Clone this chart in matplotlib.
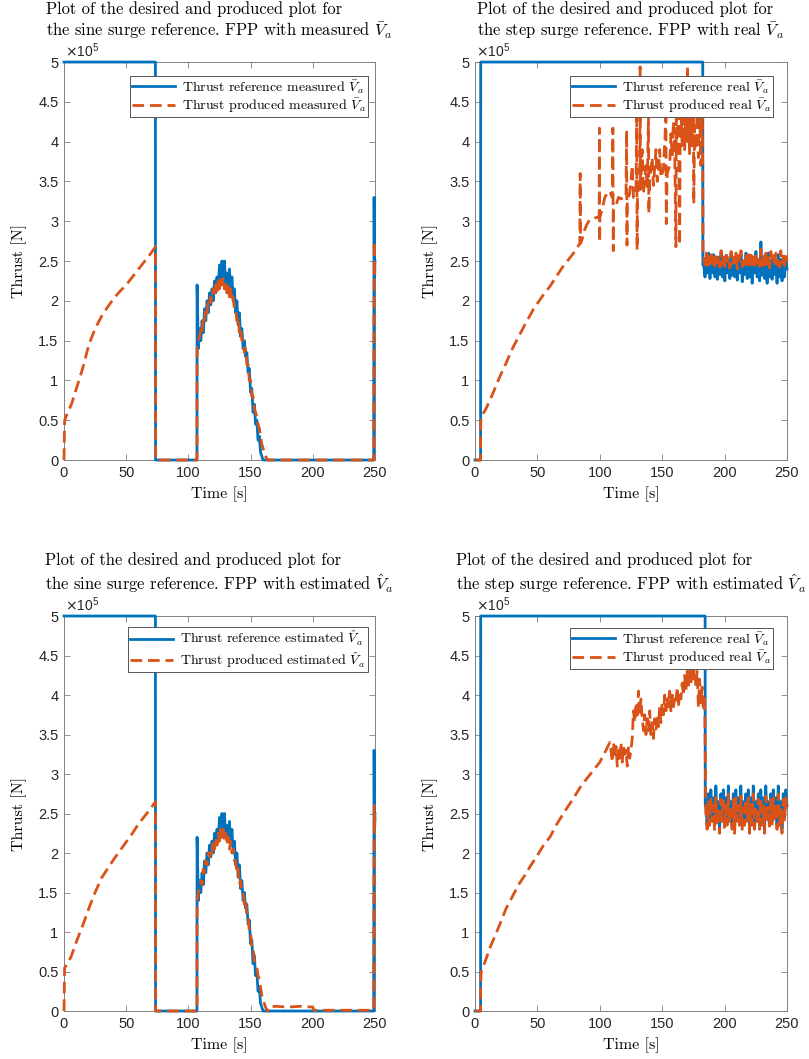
import numpy as np
import matplotlib
matplotlib.use('Agg')
import matplotlib.pyplot as plt
from matplotlib.ticker import FuncFormatter

plt.rcParams['mathtext.fontset'] = 'cm'
plt.rcParams['axes.unicode_minus'] = False

# colours (matlab default order)
c_ref = '#0072BD'
c_prod = '#D95319'

# ---------------------------------------------------------------- data [x1e5 N]
# sine surge, shared hump shape (t = 107..164, 1 s)
hump_t = np.arange(107, 165)
hump_ref = [2.2, 1.4, 1.65, 1.5, 1.75, 1.6, 1.9, 1.75, 2.0, 1.85, 2.1, 1.95, 2.15, 2.0,
            2.25, 2.1, 2.3, 2.15, 2.45, 2.2, 2.5, 2.25, 2.5, 2.2, 2.35, 2.15, 2.4, 2.1,
            2.3, 2.0, 2.15, 1.85, 2.0, 1.7, 1.85, 1.55, 1.65, 1.4, 1.5, 1.3, 1.35, 1.1,
            1.15, 0.85, 0.9, 0.6, 0.7, 0.45, 0.5, 0.25, 0.3, 0.1, 0.05, 0.0, 0.0, 0.0,
            0.0, 0.0]
hump_prod = [1.4, 1.5, 1.55, 1.65, 1.6, 1.8, 1.75, 1.9, 1.85, 2.0, 1.95, 2.05, 2.0, 2.15,
             2.05, 2.2, 2.1, 2.25, 2.15, 2.3, 2.2, 2.3, 2.15, 2.25, 2.1, 2.2, 2.05, 2.15,
             2.0, 2.05, 1.9, 1.9, 1.75, 1.8, 1.6, 1.65, 1.5, 1.5, 1.35, 1.4, 1.2, 1.2,
             1.0, 1.0, 0.8, 0.8, 0.65, 0.6, 0.55, 0.45, 0.4, 0.3, 0.2, 0.15, 0.1, 0.05,
             0.02, 0.0]

# top left: sine, measured Va
tl_rise_t = [0, 0.5, 3, 6, 10, 15, 20, 25, 30, 35, 40, 45, 50, 55, 60, 65, 70, 73.5, 73.7, 106.9]
tl_rise_y = [0, 0.5, 0.6, 0.7, 0.9, 1.15, 1.45, 1.65, 1.8, 1.92, 2.03, 2.12, 2.2, 2.3,
             2.4, 2.5, 2.6, 2.68, 0.0, 0.0]
tl_tail_t = [165, 249, 249.4, 249.7, 250]
tl_tail_y = [0.0, 0.0, 2.75, 2.3, 2.4]

# bottom left: sine, estimated Va
bl_rise_t = [0, 0.5, 3, 6, 10, 15, 20, 25, 30, 35, 40, 45, 50, 55, 60, 65, 70, 73.5, 73.7, 106.9]
bl_rise_y = [0, 0.55, 0.6, 0.7, 0.88, 1.08, 1.3, 1.5, 1.68, 1.8, 1.92, 2.03, 2.14, 2.25,
             2.37, 2.47, 2.57, 2.65, 0.0, 0.0]
bl_tail_t = [165, 170, 180, 190, 200, 201, 249, 249.4, 249.7, 250]
bl_tail_y = [0.05, 0.06, 0.05, 0.06, 0.05, 0.01, 0.01, 2.6, 2.3, 2.45]

# sine reference, outside the hump
sine_ref_head_t = [0, 73.5, 73.6, 106.9]
sine_ref_head_y = [5.0, 5.0, 0.0, 0.0]
sine_ref_tail_t = [165, 249, 249.3, 249.6, 250]
sine_ref_tail_y = [0.0, 0.0, 3.3, 2.3, 2.5]

# top right: step, real Va
tr_ref_t = [0, 4.5, 4.6, 182.5, 182.6]
tr_ref_y = [0, 0, 5.0, 5.0, 2.45]
tr_ref_noise = [2.45, 2.3, 2.55, 2.35, 2.6, 2.28, 2.5, 2.35, 2.58, 2.3, 2.45, 2.27, 2.55,
                2.33, 2.62, 2.3, 2.48, 2.25, 2.57, 2.35, 2.5, 2.28, 2.6, 2.32, 2.45, 2.3,
                2.55, 2.26, 2.5, 2.35, 2.58, 2.24, 2.48, 2.33, 2.6, 2.28, 2.52, 2.3, 2.45,
                2.22, 2.55, 2.35, 2.62, 2.3, 2.5, 2.25, 2.74, 2.32, 2.55, 2.28, 2.48, 2.22,
                2.6, 2.3, 2.5, 2.27, 2.56, 2.33, 2.45, 2.22, 2.58, 2.3, 2.52, 2.25, 2.48,
                2.3, 2.55, 2.4]
tr_prod_t = [0, 4.5, 4.6, 5, 8, 12, 16, 20, 25, 30, 35, 40, 47, 55, 60, 65, 70, 75, 80,
             84.0, 84.3, 84.6, 86, 88, 90, 92, 94, 96, 98, 99.5, 99.7, 99.9, 100.1, 102,
             104, 106, 108, 110, 110.5, 110.8, 111, 113, 115, 117, 119, 121, 121.5, 121.8,
             122, 124, 126, 127, 129, 129.6, 129.9, 130.2, 132, 132.3, 132.6, 134, 135,
             137, 138, 139, 139.3, 140, 142, 143, 145, 146, 147, 148, 149, 151, 153,
             153.3, 154, 156, 157, 158, 159, 160, 161, 161.3, 162, 163, 164, 164.4, 165,
             166, 167, 168, 169, 170, 170.3, 170.6, 171, 172, 173, 174, 175, 175.3, 176,
             177, 178, 179, 180, 181, 182, 182.5, 182.8]
tr_prod_y = [0, 0, 0.45, 0.55, 0.62, 0.75, 0.9, 1.05, 1.22, 1.4, 1.55, 1.7, 1.9, 2.08,
             2.18, 2.3, 2.42, 2.52, 2.62,
             2.72, 3.6, 2.72, 2.78, 2.9, 2.97, 3.02, 3.02, 3.04, 3.05, 3.05, 4.17, 2.74,
             3.05, 3.15, 3.3, 3.35, 3.38, 3.3, 4.17, 2.63, 3.15, 3.2, 3.3, 3.28, 3.3,
             3.3, 4.14, 2.7, 3.25, 3.35, 3.7, 3.3, 3.35, 4.4, 2.64, 3.3, 3.6, 4.94, 3.4,
             3.9, 3.35, 3.7, 3.4, 4.33, 3.1, 3.5, 3.8, 3.45, 3.9, 3.5, 3.6, 3.9, 3.55,
             3.65, 4.31, 2.97, 3.6, 3.7, 4.1, 3.8, 4.25, 3.9, 2.68, 4.3, 3.9, 4.35, 2.7,
             4.0, 4.4, 3.95, 4.3, 3.9, 4.35, 4.0, 4.94, 4.0, 4.3, 3.85, 4.4, 3.95, 4.77,
             3.22, 4.2, 3.9, 4.35, 3.8, 4.4, 3.7, 4.3, 3.7, 2.55]
tr_prod_noise = [2.55, 2.45, 2.6, 2.42, 2.58, 2.47, 2.62, 2.44, 2.55, 2.4, 2.6, 2.48, 2.57,
                 2.42, 2.63, 2.46, 2.55, 2.43, 2.6, 2.5, 2.56, 2.41, 2.62, 2.47, 2.55, 2.44,
                 2.6, 2.4, 2.57, 2.48, 2.63, 2.43, 2.55, 2.46, 2.6, 2.42, 2.58, 2.45, 2.62,
                 2.44, 2.55, 2.4, 2.6, 2.47, 2.57, 2.43, 2.65, 2.45, 2.58, 2.42, 2.6, 2.46,
                 2.55, 2.41, 2.62, 2.48, 2.57, 2.43, 2.6, 2.45, 2.55, 2.42, 2.63, 2.47, 2.56,
                 2.44, 2.6, 2.5]

# bottom right: step, estimated Va
br_ref_t = [0, 4.5, 4.6, 184.4, 184.5]
br_ref_y = [0, 0, 5.0, 5.0, 2.6]
br_prod_t = [0, 4.5, 4.6, 5, 8, 12, 16, 20, 25, 30, 35, 40, 45, 50, 55, 60, 65, 70, 75,
             80, 85, 90, 95, 100, 105, 108]
br_prod_y = [0, 0, 0.35, 0.5, 0.62, 0.8, 0.95, 1.1, 1.3, 1.45, 1.6, 1.72, 1.85, 1.97,
             2.1, 2.2, 2.35, 2.48, 2.6, 2.72, 2.85, 2.95, 3.05, 3.15, 3.3, 3.4]
br_prod_mid = [3.3, 3.15, 3.4, 3.2, 3.35, 3.1, 3.3, 3.2, 3.4, 3.15, 3.35, 3.25, 3.3, 3.1,
               3.35, 3.2, 3.3,
               3.45, 3.8, 3.65, 3.9, 3.7, 4.05, 3.75, 3.95, 3.7,
               3.55, 3.75, 3.5, 3.7, 3.55, 3.8, 3.5, 3.65, 3.45, 3.7, 3.55, 3.75, 3.6,
               3.85, 3.65, 3.9,
               3.75, 4.0, 3.8, 3.95, 3.85, 4.05, 3.8, 4.0, 3.85, 3.95, 3.9, 4.1, 3.85,
               4.05, 3.95, 4.15,
               4.0, 4.25, 4.05, 4.3, 4.1, 4.35, 4.15, 4.4, 4.2, 4.45, 4.1, 4.3,
               3.85, 4.2, 3.9, 4.1, 3.8, 4.0]
br_ref_noise = [2.6, 2.35, 2.75, 2.4, 2.8, 2.45, 2.7, 2.35, 2.85, 2.4, 2.65, 2.3, 2.75,
                2.45, 2.8, 2.35, 2.7, 2.4, 2.85, 2.45, 2.65, 2.35, 2.75, 2.3, 2.8, 2.45,
                2.7, 2.4, 2.85, 2.35, 2.65, 2.4, 2.75, 2.45, 2.8, 2.3, 2.7, 2.4, 2.85,
                2.35, 2.65, 2.45, 2.75, 2.35, 2.8, 2.4, 2.7, 2.3, 2.85, 2.45, 2.65, 2.35,
                2.75, 2.4, 2.8, 2.45, 2.7, 2.35, 2.85, 2.4, 2.65, 2.3, 2.75, 2.45, 2.8, 2.6]
br_prod_noise = [2.5, 2.3, 2.65, 2.35, 2.7, 2.4, 2.6, 2.28, 2.72, 2.38, 2.55, 2.25, 2.68,
                 2.4, 2.7, 2.3, 2.6, 2.35, 2.75, 2.4, 2.55, 2.3, 2.68, 2.25, 2.7, 2.4,
                 2.6, 2.35, 2.72, 2.3, 2.58, 2.35, 2.68, 2.4, 2.7, 2.25, 2.62, 2.35, 2.75,
                 2.3, 2.55, 2.4, 2.68, 2.3, 2.7, 2.35, 2.6, 2.25, 2.72, 2.4, 2.58, 2.3,
                 2.68, 2.35, 2.7, 2.4, 2.62, 2.3, 2.75, 2.35, 2.55, 2.25, 2.68, 2.4, 2.7, 2.5]

titles = [
    'Plot of the desired and produced plot for\nthe sine surge reference. FPP with measured $\\bar{V}_a$',
    'Plot of the desired and produced plot for\nthe step surge reference. FPP with real $\\bar{V}_a$',
    'Plot of the desired and produced plot for\nthe sine surge reference. FPP with estimated $\\hat{V}_a$',
    'Plot of the desired and produced plot for\nthe step surge reference. FPP with estimated $\\hat{V}_a$',
]
legends = [
    ('Thrust reference measured $\\bar{V}_a$', 'Thrust produced measured $\\bar{V}_a$'),
    ('Thrust reference real $\\bar{V}_a$', 'Thrust produced real $\\bar{V}_a$'),
    ('Thrust reference estimated $\\hat{V}_a$', 'Thrust produced estimated $\\hat{V}_a$'),
    ('Thrust reference real $\\bar{V}_a$', 'Thrust produced real $\\bar{V}_a$'),
]


# ---------------------------------------------------------------- series assembly
def sine_series(rise_t, rise_y, tail_t, tail_y):
    t_ref = np.concatenate([sine_ref_head_t, hump_t, sine_ref_tail_t])
    y_ref = np.concatenate([sine_ref_head_y, hump_ref, sine_ref_tail_y])
    t_prod = np.concatenate([rise_t, hump_t, tail_t])
    y_prod = np.concatenate([rise_y, hump_prod, tail_y])
    return t_ref, y_ref, t_prod, y_prod


def step_series(ref_t, ref_y, ref_noise, prod_t, prod_y, prod_noise, t_drop):
    nt_ref = np.linspace(t_drop + 0.5, 250, len(ref_noise))
    nt_prod = np.linspace(t_drop + 0.5, 250, len(prod_noise))
    t_ref = np.concatenate([ref_t, nt_ref])
    y_ref = np.concatenate([ref_y, ref_noise])
    t_prod = np.concatenate([prod_t, nt_prod])
    y_prod = np.concatenate([prod_y, prod_noise])
    return t_ref, y_ref, t_prod, y_prod


series = [
    sine_series(tl_rise_t, tl_rise_y, tl_tail_t, tl_tail_y),
    step_series(tr_ref_t, tr_ref_y, tr_ref_noise, tr_prod_t, tr_prod_y, tr_prod_noise, 182.8),
    sine_series(bl_rise_t, bl_rise_y, bl_tail_t, bl_tail_y),
    step_series(br_ref_t, br_ref_y, br_ref_noise,
                np.concatenate([br_prod_t, np.arange(109, 185)]),
                np.concatenate([br_prod_y, br_prod_mid]),
                br_prod_noise, 184.5),
]

# ---------------------------------------------------------------- figure
fig = plt.figure(figsize=(8.09, 10.59), dpi=100)

positions = [
    [0.0791, 0.5656, 0.3844, 0.3758],
    [0.5871, 0.5656, 0.3857, 0.3758],
    [0.0791, 0.0453, 0.3844, 0.3730],
    [0.5871, 0.0453, 0.3857, 0.3730],
]
legend_anchor = [(0.977, 0.965), (0.955, 0.965), (0.977, 0.972), (0.955, 0.970)]

serif = 'cmr10'
tick_color = '#262626'
spine_color = '#808080'

for i, pos in enumerate(positions):
    ax = fig.add_axes(pos)
    t_ref, y_ref, t_prod, y_prod = series[i]

    ax.plot(t_ref, y_ref, color=c_ref, lw=2.0, label=legends[i][0],
            clip_on=False, zorder=3)
    ax.plot(t_prod, y_prod, color=c_prod, lw=2.0, ls=(0, (4.2, 2.1)),
            label=legends[i][1], clip_on=False, zorder=4)

    ax.set_xlim(0, 250)
    ax.set_ylim(0, 5)
    ax.set_xticks(np.arange(0, 251, 50))
    ax.set_yticks(np.arange(0, 5.01, 0.5))
    ax.yaxis.set_major_formatter(FuncFormatter(lambda v, p: '%g' % v))
    ax.tick_params(direction='in', top=True, right=True, length=4, width=0.6,
                   color=spine_color, labelcolor=tick_color, labelsize=10.5, pad=4)
    for lab in ax.get_xticklabels() + ax.get_yticklabels():
        lab.set_family('Liberation Sans')
    for s in ax.spines.values():
        s.set_color(spine_color)
        s.set_linewidth(0.7)

    ax.text(0.003, 1.004, r'$\times\mathregular{10^{5}}$', transform=ax.transAxes,
            ha='left', va='bottom', fontsize=10, color=tick_color,
            math_fontfamily='dejavusans', family='Liberation Sans')

    ax.set_title(titles[i], fontsize=11.9, family=serif, ma='left', pad=19, color='black')
    ax.set_xlabel('Time [s]', fontsize=11.5, family=serif, labelpad=5)
    ax.set_ylabel('Thrust [N]', fontsize=11.5, family=serif, labelpad=8)

    leg = ax.legend(loc='upper right', bbox_to_anchor=legend_anchor[i], borderaxespad=0,
                    fancybox=False, framealpha=1, edgecolor='#555555',
                    prop={'family': serif, 'size': 10}, handlelength=3.1,
                    labelspacing=0.1, borderpad=0.15, handletextpad=0.5)
    leg.get_frame().set_linewidth(0.7)

fig.savefig('out.png', dpi=100, facecolor='white')
